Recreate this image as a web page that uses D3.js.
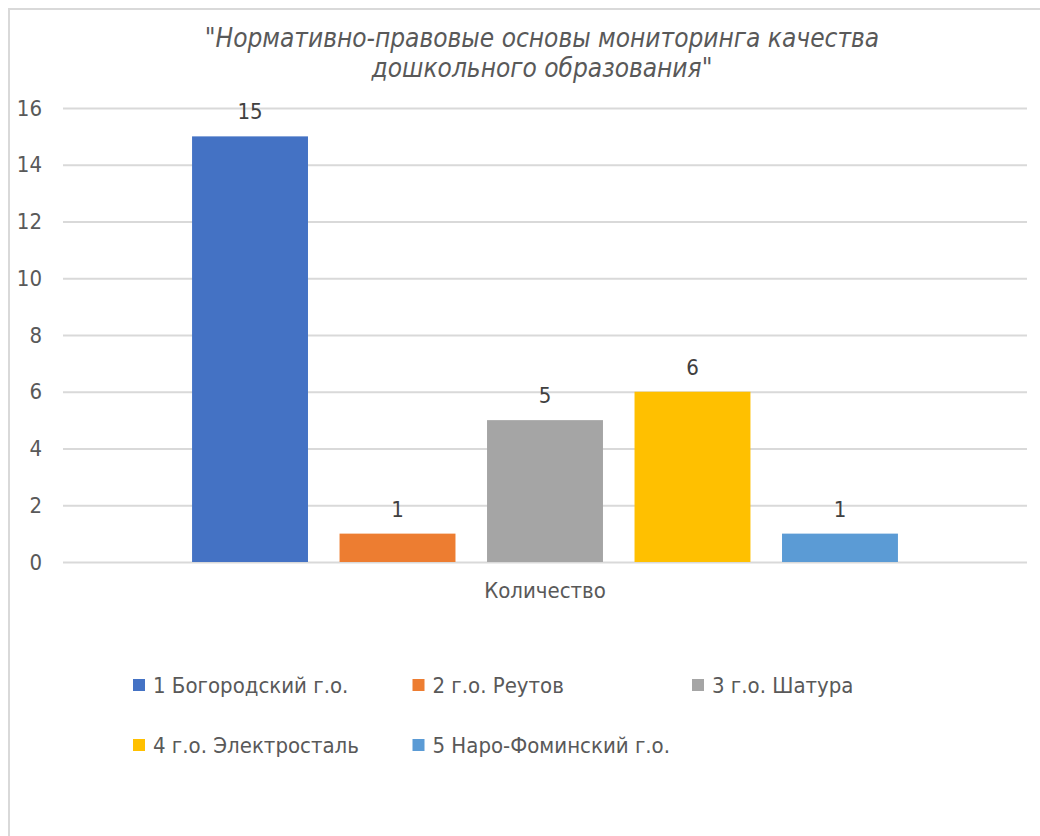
<!DOCTYPE html>
<html>
<head>
<meta charset="utf-8">
<script src="https://d3js.org/d3.v7.min.js"></script>
<style>
  body { margin: 0; background: #fff; }
  text { font-family: "Liberation Sans Narrow", "DejaVu Sans Condensed", Roboto, sans-serif; }
</style>
</head>
<body>
<script>
var categories = ["Количество"];
var seriesNames = ["1 Богородский г.о.", "2 г.о. Реутов", "3 г.о. Шатура", "4 г.о. Электросталь", "5 Наро-Фоминский г.о."];
var seriesValues = [15, 1, 5, 6, 1];
var seriesColors = ["#4472c4", "#ed7d31", "#a5a5a5", "#ffc000", "#5b9bd5"];
var yTicks = [0, 2, 4, 6, 8, 10, 12, 14, 16];
var titleLines = ["\"Нормативно-правовые основы мониторинга качества", "дошкольного образования\""];

var W = 1040, H = 836;
var plot = { left: 63, right: 1027, top: 108, bottom: 562 };

var svg = d3.select('body').append('svg')
  .attr('width', W).attr('height', H);

// рамка диаграммы
svg.append('rect')
  .attr('x', 9).attr('y', 9)
  .attr('width', W).attr('height', H)
  .attr('fill', '#fff')
  .attr('stroke', '#d9d9d9').attr('stroke-width', 2);

// заголовок
svg.append('g').selectAll('text')
  .data(titleLines).enter().append('text')
  .attr('x', 542)
  .attr('y', function (d, i) { return 47 + i * 30; })
  .attr('text-anchor', 'middle')
  .attr('font-size', 26)
  .attr('font-style', 'italic')
  .attr('fill', '#595959')
  .text(function (d) { return d; });

var yScale = d3.scaleLinear()
  .domain([0, 16])
  .range([plot.bottom, plot.top]);

var x0 = d3.scaleBand()
  .domain(categories)
  .range([plot.left, plot.right])
  .paddingOuter(0.1536);

var x1 = d3.scaleBand()
  .domain(d3.range(seriesValues.length))
  .range([0, x0.bandwidth()])
  .paddingInner(0.214)
  .paddingOuter(0.107);

// сетка и ось Y
var yAxis = d3.axisLeft(yScale)
  .tickValues(yTicks)
  .tickSize(-(plot.right - plot.left))
  .tickPadding(21);
var gy = svg.append('g')
  .attr('transform', 'translate(' + plot.left + ',0)')
  .call(yAxis);
gy.select('.domain').remove();
gy.selectAll('.tick line').attr('stroke', '#d9d9d9').attr('stroke-width', 2);
gy.selectAll('.tick text')
  .attr('font-size', 22)
  .attr('fill', '#595959');

// ось X (категория)
var xAxis = d3.axisBottom(x0).tickSize(0).tickPadding(20);
var gx = svg.append('g')
  .attr('transform', 'translate(0,' + plot.bottom + ')')
  .call(xAxis);
gx.select('.domain').remove();
gx.selectAll('.tick text')
  .attr('font-size', 22)
  .attr('fill', '#595959');

// столбцы
var groupX = x0(categories[0]);
svg.selectAll('.bar')
  .data(seriesValues).enter().append('rect')
  .attr('class', 'bar')
  .attr('x', function (d, i) { return groupX + x1(i); })
  .attr('y', function (d) { return yScale(d); })
  .attr('width', x1.bandwidth())
  .attr('height', function (d) { return yScale(0) - yScale(d); })
  .attr('fill', function (d, i) { return seriesColors[i]; });

// подписи значений
svg.selectAll('.lbl')
  .data(seriesValues).enter().append('text')
  .attr('class', 'lbl')
  .attr('x', function (d, i) { return groupX + x1(i) + x1.bandwidth() / 2; })
  .attr('y', function (d) { return yScale(d) - 17; })
  .attr('text-anchor', 'middle')
  .attr('font-size', 22)
  .attr('fill', '#404040')
  .text(function (d) { return d; });

// легенда
var legend = svg.append('g').selectAll('g')
  .data(seriesNames).enter().append('g')
  .attr('transform', function (d, i) {
    return 'translate(' + (133 + (i % 3) * 279.5) + ',' + (685 + Math.floor(i / 3) * 60) + ')';
  });
legend.append('rect')
  .attr('x', 0).attr('y', -6)
  .attr('width', 12).attr('height', 12)
  .attr('fill', function (d, i) { return seriesColors[i]; });
legend.append('text')
  .attr('x', 20).attr('y', 8)
  .attr('font-size', 22)
  .attr('fill', '#595959')
  .text(function (d) { return d; });
</script>
</body>
</html>
